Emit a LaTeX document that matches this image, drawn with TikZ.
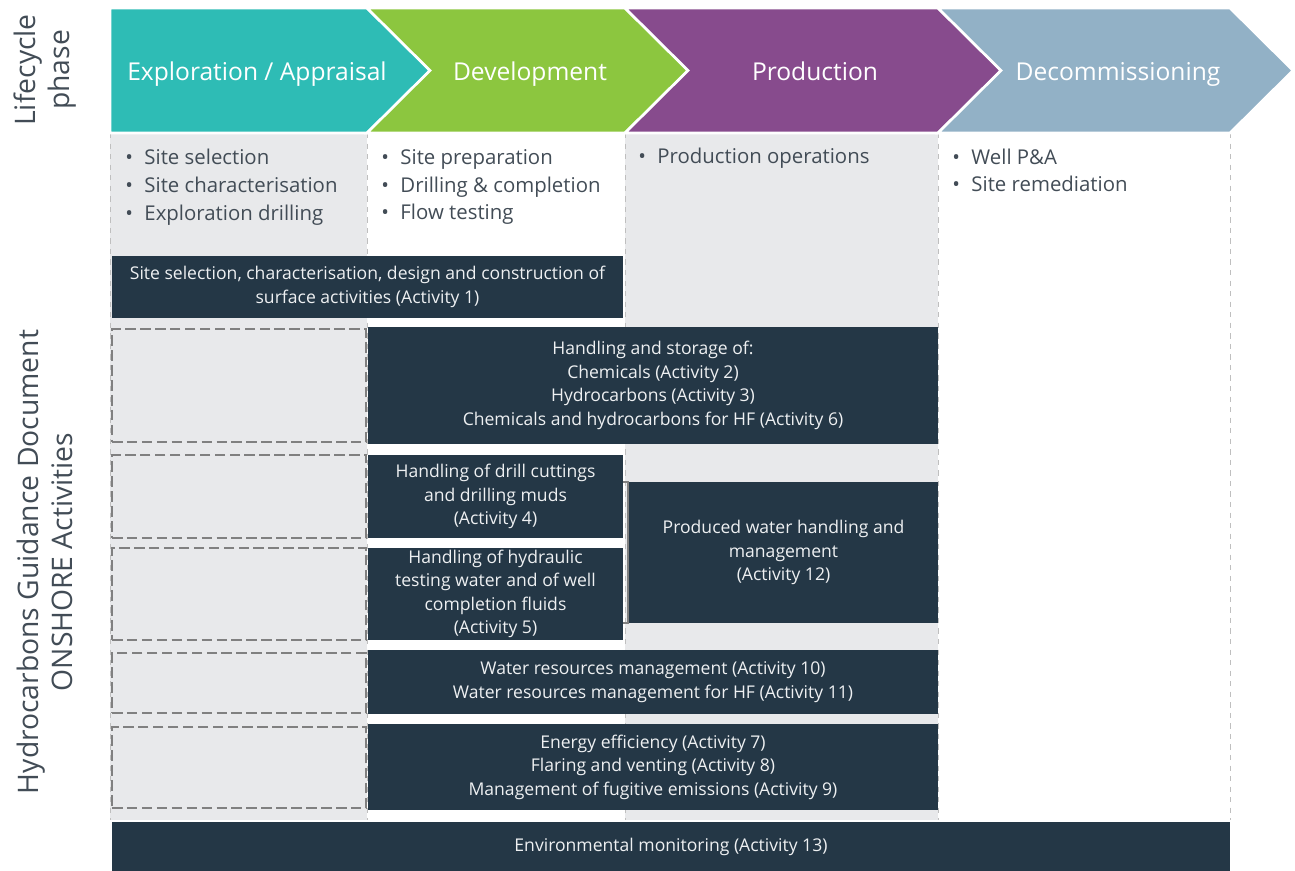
\documentclass[tikz,border=0pt]{standalone}
\usepackage{fontspec}
\setmainfont{Open Sans}
\definecolor{explcol}{HTML}{2EBCB5}
\definecolor{devcol}{HTML}{8CC63F}
\definecolor{prodcol}{HTML}{874B8D}
\definecolor{decomcol}{HTML}{92B1C6}
\definecolor{darkbox}{HTML}{243746}
\definecolor{colgray}{HTML}{E8E9EB}
\definecolor{gapgray}{HTML}{808080}
\definecolor{listtext}{HTML}{424C56}
\definecolor{acttext}{HTML}{EEF0F2}

\begin{document}
\begin{tikzpicture}[x=0.02cm,y=-0.02cm,
  phase/.style={draw=white,line width=1.5pt},
  phasename/.style={anchor=base,text=white,font=\fontsize{14}{16}\selectfont},
  bullets/.style={anchor=west,align=left,inner sep=0pt,text=listtext,font=\fontsize{11.6}{15.9}\selectfont},
  actbox/.style 2 args={fill=darkbox,text=acttext,align=center,inner sep=0pt,
    minimum width=#1*0.02cm,minimum height=#2*0.02cm,font=\fontsize{10}{13.4}\selectfont},
  gapbox/.style 2 args={draw=gapgray,dashed,line width=1.4pt,dash pattern=on 6pt off 2.5pt,
    minimum width=#1*0.02cm,minimum height=#2*0.02cm,inner sep=0pt},
  sidelabel/.style={rotate=90,align=center,text=listtext,font=\fontsize{16.1}{19.5}\selectfont}]
  \useasboundingbox (0,0) rectangle (1295,871);

  % columns
  \fill[colgray] (110,133) rectangle (367,820);
  \fill[colgray] (625,133) rectangle (938,820);
  \foreach \x in {110,367,625,938,1230}
    \draw[gray!50,dashed,line width=0.5pt] (\x,133) -- (\x,820);

  % lifecycle chevrons
  \fill[explcol,phase] (110,8) -- (367,8) -- (430,70.5) -- (367,133) -- (110,133) -- cycle;
  \fill[devcol,phase] (367,8) -- (625,8) -- (688,70.5) -- (625,133) -- (367,133) -- (430,70.5) -- cycle;
  \fill[prodcol,phase] (625,8) -- (938,8) -- (1001,70.5) -- (938,133) -- (625,133) -- (688,70.5) -- cycle;
  \fill[decomcol,phase] (938,8) -- (1230,8) -- (1293,70.5) -- (1230,133) -- (938,133) -- (1001,70.5) -- cycle;
  \node[phasename] (expl) at (257,81) {Exploration / Appraisal};
  \node[phasename] (dev) at (530,81) {Development};
  \node[phasename] (prod) at (815,81) {Production};
  \node[phasename] (decom) at (1118,81) {Decommissioning};

  \node[bullets] (explist) at (125,187) {\textbullet\hspace{6.5pt}Site selection\\\textbullet\hspace{6.5pt}Site characterisation\\\textbullet\hspace{6.5pt}Exploration drilling};
  \node[bullets] (devlist) at (381,187) {\textbullet\hspace{6.5pt}Site preparation\\\textbullet\hspace{6.5pt}Drilling \& completion\\\textbullet\hspace{6.5pt}Flow testing};
  \node[bullets] (prodlist) at (638,158) {\textbullet\hspace{6.5pt}Production operations};
  \node[bullets,font=\fontsize{11.6}{15.3}\selectfont] (decomlist) at (952,170) {\textbullet\hspace{6.5pt}Well P\&A\\\textbullet\hspace{6.5pt}Site remediation};

  % side labels
  \node[sidelabel] (lifecycle) at (45,70) {Lifecycle\\phase};
  \node[sidelabel] (onshore) at (45,562) {Hydrocarbons Guidance Document\\ONSHORE Activities};

  % activities
  \node[actbox={511}{62}] (a1) at (367.5,287) {Site selection, characterisation, design and construction of\\surface activities (Activity 1)};
  \node[actbox={570}{117}] (a2) at (653,385.5) {Handling and storage of:\\Chemicals (Activity 2)\\Hydrocarbons (Activity 3)\\Chemicals and hydrocarbons for HF (Activity 6)};
  \node[actbox={255}{83}] (a4) at (495.5,496.5) {Handling of drill cuttings\\and drilling muds\\(Activity 4)};
  \node[actbox={255}{92}] (a5) at (495.5,594) {Handling of hydraulic\\testing water and of well\\completion fluids\\(Activity 5)};
  \node[actbox={309}{141}] (a12) at (783.5,552.5) {Produced water handling and\\management\\(Activity 12)};
  \node[actbox={570}{64}] (a10) at (653,682) {Water resources management (Activity 10)\\Water resources management for HF (Activity 11)};
  \node[actbox={570}{86}] (a7) at (653,767) {Energy efficiency (Activity 7)\\Flaring and venting (Activity 8)\\Management of fugitive emissions (Activity 9)};
  \node[actbox={1118}{49}] (a13) at (671,846.5) {Environmental monitoring (Activity 13)};

  \draw[gapgray,line width=1pt] (a4.east |- a12.north) -- ++(5,0) |- (a5.east |- a12.south);

  % not applicable during exploration
  \node[gapbox={254}{113}] (g2) at (239,385.5) {};
  \node[gapbox={254}{83}] (g4) at (239,496.5) {};
  \node[gapbox={254}{92}] (g5) at (239,594) {};
  \node[gapbox={254}{60}] (g10) at (239,683) {};
  \node[gapbox={254}{81}] (g7) at (239,767.5) {};
\end{tikzpicture}
\end{document}
